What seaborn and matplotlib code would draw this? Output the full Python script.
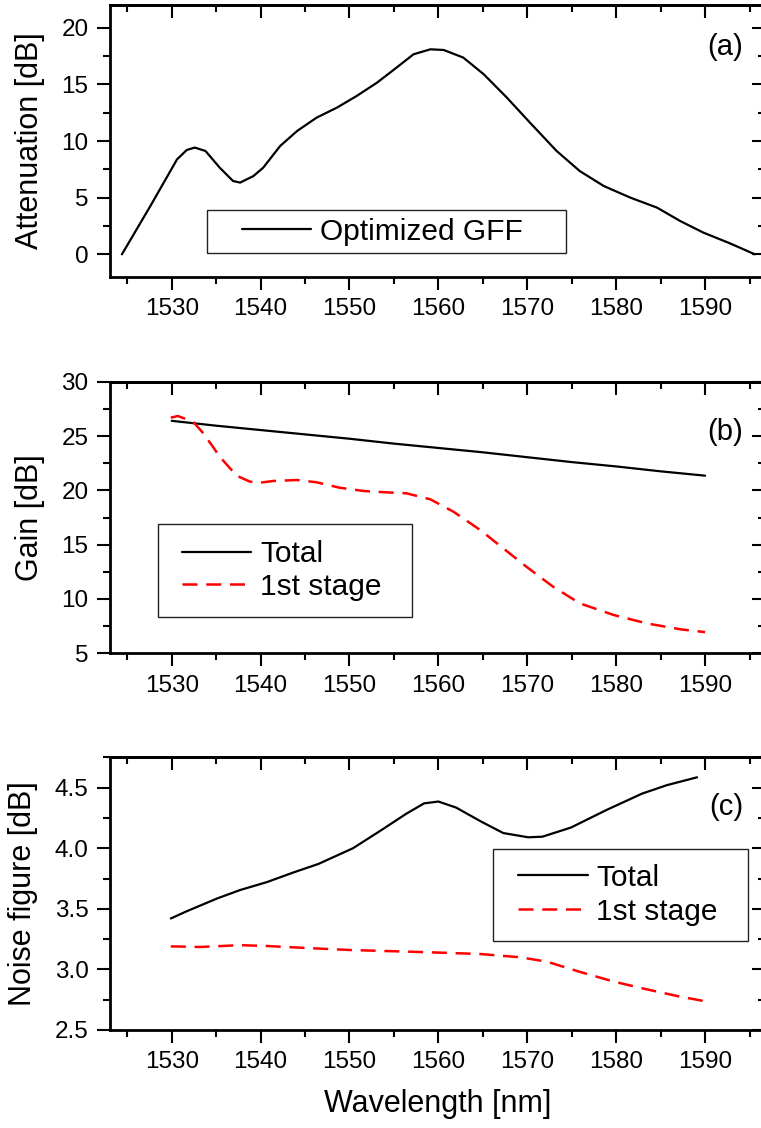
import numpy as np
import pandas as pd
import matplotlib
matplotlib.use("Agg")
import matplotlib.pyplot as plt
import seaborn as sns
from matplotlib.patches import Rectangle
from matplotlib.ticker import MultipleLocator

# (a) optimized gain flattening filter
att_wl = [1524.4, 1527.6, 1530.6, 1531.7, 1532.6, 1533.8, 1535.4, 1536.9, 1537.7, 1539.2,
          1540.3, 1542.2, 1544.1, 1546.3, 1548.6, 1550.8, 1553.1, 1555.3, 1557.2, 1559.1,
          1560.6, 1562.8, 1565.1, 1567.7, 1570.3, 1573.3, 1575.9, 1578.6, 1581.6, 1584.6,
          1587.2, 1589.8, 1592.8, 1595.6]
att_db = [0.0, 4.26, 8.38, 9.21, 9.42, 9.12, 7.65, 6.47, 6.33, 6.91,
          7.65, 9.56, 10.88, 12.06, 12.95, 13.97, 15.15, 16.48, 17.65, 18.09,
          18.03, 17.36, 15.89, 13.83, 11.62, 9.12, 7.35, 6.03, 5.0, 4.12,
          2.94, 1.92, 0.97, 0.0]

# (b) gain
gain_wl = [1530, 1535, 1540, 1545, 1550, 1555, 1560, 1565, 1570, 1575, 1580, 1585, 1590]
gain_total = [26.4, 25.95, 25.55, 25.15, 24.75, 24.3, 23.9, 23.5, 23.05, 22.6, 22.2, 21.75, 21.35]
stage_wl = [1529.9, 1530.7, 1532.4, 1533.4, 1534.5, 1535.4, 1536.4, 1537.3, 1538.8, 1539.9,
            1541.4, 1544.1, 1546.3, 1548.9, 1551.6, 1554.0, 1556.4, 1559.1, 1561.7, 1564.7,
            1567.3, 1569.9, 1572.9, 1575.9, 1579.7, 1583.4, 1587.2, 1590.0]
gain_stage = [26.69, 26.84, 26.32, 25.4, 24.17, 23.1, 22.18, 21.35, 20.8, 20.7,
              20.86, 20.95, 20.74, 20.24, 19.94, 19.82, 19.73, 19.17, 18.03, 16.35,
              14.66, 12.97, 11.13, 9.6, 8.53, 7.76, 7.21, 6.95]

# (c) noise figure
nf_wl = [1529.9, 1531.7, 1535.1, 1537.7, 1540.7, 1543.7, 1546.5, 1550.4, 1553.6, 1556.4,
         1558.4, 1560.0, 1562.0, 1564.8, 1567.3, 1570.1, 1571.7, 1574.9, 1578.9, 1582.9,
         1585.7, 1589.1]
nf_total = [3.42, 3.48, 3.585, 3.655, 3.72, 3.8, 3.87, 4.0, 4.15, 4.285,
            4.37, 4.385, 4.335, 4.22, 4.125, 4.09, 4.095, 4.17, 4.315, 4.45,
            4.52, 4.585]
nf1_wl = [1529.9, 1533.2, 1537.7, 1540.7, 1545.9, 1550.1, 1553.4, 1559.1, 1564.7, 1569.2,
          1572.2, 1575.9, 1579.7, 1583.4, 1587.2, 1589.8]
nf_stage = [3.19, 3.185, 3.2, 3.193, 3.174, 3.16, 3.153, 3.141, 3.127, 3.1,
            3.064, 2.98, 2.9, 2.836, 2.775, 2.74]

sns.set_theme(style="ticks")
plt.rcParams['font.family'] = ['Liberation Sans', 'DejaVu Sans']
plt.rcParams['axes.linewidth'] = 2.0
plt.rcParams['axes.edgecolor'] = 'black'
plt.rcParams['text.color'] = 'black'
plt.rcParams['axes.labelcolor'] = 'black'
plt.rcParams['xtick.color'] = 'black'
plt.rcParams['ytick.color'] = 'black'

W, H = 761, 1128
fig, axes = plt.subplots(3, 1, figsize=(W / 100, H / 100), dpi=100)

left_px, right_px = 110, 765
boxes_px = [(5, 277), (381.7, 653.3), (757.3, 1030)]
for ax, (top, bot) in zip(axes, boxes_px):
    ax.set_position([left_px / W, 1 - bot / H, (right_px - left_px) / W, (bot - top) / H])

ylims = [(-2, 22), (5, 30), (2.5, 4.75)]
yticks = [np.arange(0, 21, 5), np.arange(5, 31, 5), np.arange(2.5, 4.6, 0.5)]
yminor = [2.5, 2.5, 0.25]
ylabels = ['Attenuation [dB]', 'Gain [dB]', 'Noise figure [dB]']
tags = ['(a)', '(b)', '(c)']
tag_y = [0.846, 0.813, 0.819]
ylabel_fmt = ['{:.0f}', '{:.0f}', '{:.1f}']

# curves
sns.lineplot(x=att_wl, y=att_db, ax=axes[0], color='black', lw=1.6,
             estimator=None, sort=False, legend=False)

sns.lineplot(x=gain_wl, y=gain_total, ax=axes[1], color='black', lw=1.6,
             estimator=None, sort=False, legend=False)
sns.lineplot(x=stage_wl, y=gain_stage, ax=axes[1], color='red', lw=1.8,
             estimator=None, sort=False, legend=False)
axes[1].lines[-1].set_linestyle((0, (6, 3.5)))

sns.lineplot(x=nf_wl, y=nf_total, ax=axes[2], color='black', lw=1.6,
             estimator=None, sort=False, legend=False)
sns.lineplot(x=nf1_wl, y=nf_stage, ax=axes[2], color='red', lw=1.8,
             estimator=None, sort=False, legend=False)
axes[2].lines[-1].set_linestyle((0, (6, 3.5)))

for i, ax in enumerate(axes):
    ax.set_xlim(1523.06, 1596.74)
    ax.set_ylim(*ylims[i])
    ax.set_xticks(np.arange(1530, 1591, 10))
    ax.xaxis.set_minor_locator(MultipleLocator(5))
    ax.set_yticks(yticks[i])
    ax.set_yticklabels([ylabel_fmt[i].format(v) for v in yticks[i]])
    ax.yaxis.set_minor_locator(MultipleLocator(yminor[i]))
    ax.tick_params(which='both', direction='out', width=1.5, colors='black',
                   labelsize=17.5, pad=6, top=False, right=False)
    ax.tick_params(which='major', length=9.4)
    ax.tick_params(which='minor', length=5.2)
    ax.set_ylabel(ylabels[i], fontsize=22, labelpad=12)
    ax.set_xlabel('')
    for s in ax.spines.values():
        s.set_linewidth(2.0)
        s.set_color('black')
    ax.text(0.9664, tag_y[i], tags[i], transform=ax.transAxes, ha='right',
            va='center', fontsize=21)

    # inward ticks on top and right
    sx = ax.secondary_xaxis('top')
    sx.set_xticks(np.arange(1530, 1591, 10))
    sx.xaxis.set_minor_locator(MultipleLocator(5))
    sx.tick_params(which='both', direction='in', width=1.5, labeltop=False, colors='black')
    sx.tick_params(which='major', length=9.4)
    sx.tick_params(which='minor', length=5.2)
    sy = ax.secondary_yaxis('right')
    sy.set_yticks(yticks[i])
    sy.yaxis.set_minor_locator(MultipleLocator(yminor[i]))
    sy.tick_params(which='both', direction='in', width=1.5, labelright=False, colors='black')
    sy.tick_params(which='major', length=9.4)
    sy.tick_params(which='minor', length=5.2)
    for s in list(sx.spines.values()) + list(sy.spines.values()):
        s.set_linewidth(2.0)
        s.set_color('black')

axes[2].set_xlabel('Wavelength [nm]', fontsize=22, labelpad=11.5)

# legends: content anchored at handle start, frame drawn as box in axes coords
leg_labels = [['Optimized GFF'], ['Total', '1st stage'], ['Total', '1st stage']]
leg_anchor = [(0.2011, 0.1667), (0.1099, 0.3049), (0.6233, 0.4963)]
leg_frame = [(0.1477, 0.0871, 0.6957, 0.2463),
             (0.0728, 0.1348, 0.4606, 0.475),
             (0.585, 0.3275, 0.9736, 0.665)]
leg_space = [0.15, 0.15, 0.2]
for i, ax in enumerate(axes):
    ax.legend(handles=ax.lines[:len(leg_labels[i])], labels=leg_labels[i],
              loc='center left', bbox_to_anchor=leg_anchor[i], borderaxespad=0,
              borderpad=0, frameon=False, fontsize=21.5, handlelength=2.32,
              handletextpad=0.3, labelspacing=leg_space[i])
    x0, y0, x1, y1 = leg_frame[i]
    ax.add_patch(Rectangle((x0, y0), x1 - x0, y1 - y0, transform=ax.transAxes,
                           fill=False, lw=1.0, ec='#222222', zorder=5))

fig.savefig('out.png', dpi=100)
